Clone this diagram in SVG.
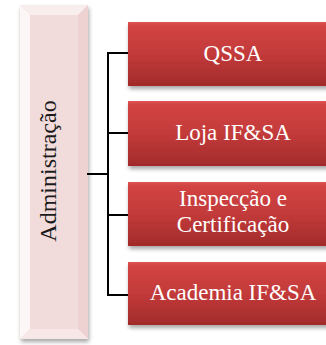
<svg xmlns="http://www.w3.org/2000/svg" width="326" height="345" viewBox="0 0 326 345">
<style>
text{font-family:'Liberation Serif','Times New Roman',Times,serif}
.lbl{font-size:23px;fill:#ffffff;text-anchor:middle}
.admin{font-size:24px;fill:#1a1a1a;text-anchor:middle}
.conn{stroke:#000;stroke-width:2;fill:none}
.redbox{fill:url(#redg)}
</style>
<defs>
<linearGradient id="redg" x1="0" y1="0" x2="0" y2="1">
<stop offset="0" stop-color="#e05656"/>
<stop offset="0.05" stop-color="#d24444"/>
<stop offset="0.5" stop-color="#c33a3a"/>
<stop offset="1" stop-color="#a22b2b"/>
</linearGradient>
<filter id="sh" x="-10%" y="-10%" width="130%" height="140%">
<feGaussianBlur in="SourceAlpha" stdDeviation="2"/>
<feOffset dx="1" dy="3" result="b"/>
<feComponentTransfer><feFuncA type="linear" slope="0.35"/></feComponentTransfer>
<feMerge><feMergeNode/><feMergeNode in="SourceGraphic"/></feMerge>
</filter>
</defs>
<g id="administracao">
<rect x="20" y="5" width="68" height="334" fill="#f2dcdb" filter="url(#sh)"/>
<polygon points="20,5 88,5 78,15 30,15" fill="#f9eeee"/>
<polygon points="20,5 30,15 30,329 20,339" fill="#fdf6f6"/>
<polygon points="88,5 88,339 78,329 78,15" fill="#eed2d1"/>
<polygon points="20,339 88,339 78,329 30,329" fill="#f7e7e7"/>
<rect x="30" y="15" width="48" height="314" fill="#f2dcdb"/>
<text class="admin" transform="translate(56,171) rotate(-90)">Administração</text>
</g>
<g id="connectors">
<line class="conn" x1="87" y1="174" x2="108" y2="174"/>
<line class="conn" x1="108" y1="53" x2="108" y2="295"/>
<line class="conn" x1="107" y1="53" x2="128" y2="53"/>
<line class="conn" x1="107" y1="133" x2="128" y2="133"/>
<line class="conn" x1="107" y1="215" x2="128" y2="215"/>
<line class="conn" x1="107" y1="295" x2="128" y2="295"/>
</g>
<g id="qssa">
<rect class="redbox" x="128" y="22" width="212" height="64" filter="url(#sh)"/>
<text class="lbl" x="233" y="61">QSSA</text>
</g>
<g id="loja">
<rect class="redbox" x="128" y="101" width="212" height="65" filter="url(#sh)"/>
<text class="lbl" x="233" y="140">Loja IF&amp;SA</text>
</g>
<g id="inspeccao">
<rect class="redbox" x="128" y="182" width="212" height="64" filter="url(#sh)"/>
<text class="lbl" x="233" y="206">Inspecção e</text>
<text class="lbl" x="233" y="232">Certificação</text>
</g>
<g id="academia">
<rect class="redbox" x="128" y="262" width="212" height="63" filter="url(#sh)"/>
<text class="lbl" x="233" y="300">Academia IF&amp;SA</text>
</g>
</svg>
